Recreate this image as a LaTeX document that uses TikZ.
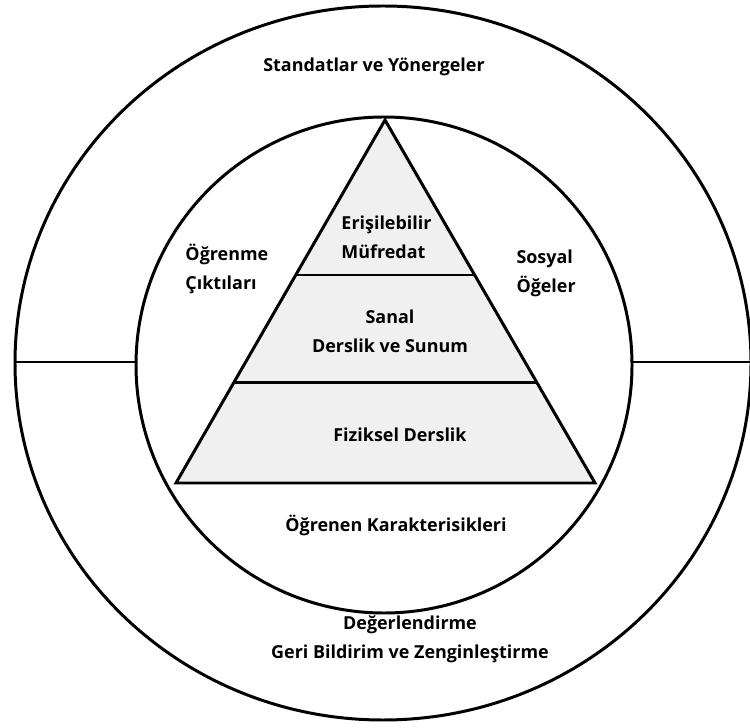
\documentclass[tikz,border=0pt]{standalone}
\usepackage{fontspec}
\setmainfont{Open Sans}
\usetikzlibrary{calc}
\definecolor{pyrfill}{HTML}{F0F0F0}
\tikzset{lbl/.style={font=\bfseries\fontsize{10.2}{16.5}\selectfont, inner sep=0pt}}

\begin{document}
\begin{tikzpicture}[x=0.02cm, y=0.02cm, line width=1.7pt]
    \def\rin{248}
    \useasboundingbox (0,0) rectangle (750,727);

    \coordinate (c) at (384,362);
    \coordinate (top) at (385,607);
    \coordinate (bl) at (176,244);
    \coordinate (br) at (595,244);

    \coordinate (outL) at (15,365);
    \coordinate (inL) at (137,365);
    \coordinate (inR) at (632,365);
    \coordinate (outR) at (752,365);

    % rings
    \draw (383,364) ellipse (368 and 357);
    \draw (c) circle (\rin);
    \draw (outL) -- (inL);
    \draw (inR) -- (outR);

    % pyramid
    \filldraw[fill=pyrfill] (top) -- (bl) -- (br) -- cycle;
    \draw ($(bl)!0.573!(top)$) -- ($(br)!0.573!(top)$);
    \draw ($(bl)!0.278!(top)$) -- ($(br)!0.278!(top)$);

    % Labels
    \node[lbl] (std) at (374,660) {Standatlar ve Yönergeler};
    \node[lbl, anchor=west, align=left] (eris) at (340,490) {Erişilebilir\\Müfredat};
    \node[lbl, anchor=west, align=left] (ciktı) at (184,458) {Öğrenme\\Çıktıları};
    \node[lbl, anchor=west, align=left] (sosyal) at (515,454) {Sosyal\\Öğeler};
    \node[lbl, align=center] (sanal) at (390,396) {Sanal\\Derslik ve Sunum};
    \node[lbl] (fiz) at (400,292) {Fiziksel Derslik};
    \node[lbl] (ogrenen) at (396,202) {Öğrenen Karakterisikleri};
    \node[lbl, align=center] (deg) at (410,88) {Değerlendirme\\Geri Bildirim ve Zenginleştirme};
\end{tikzpicture}
\end{document}
